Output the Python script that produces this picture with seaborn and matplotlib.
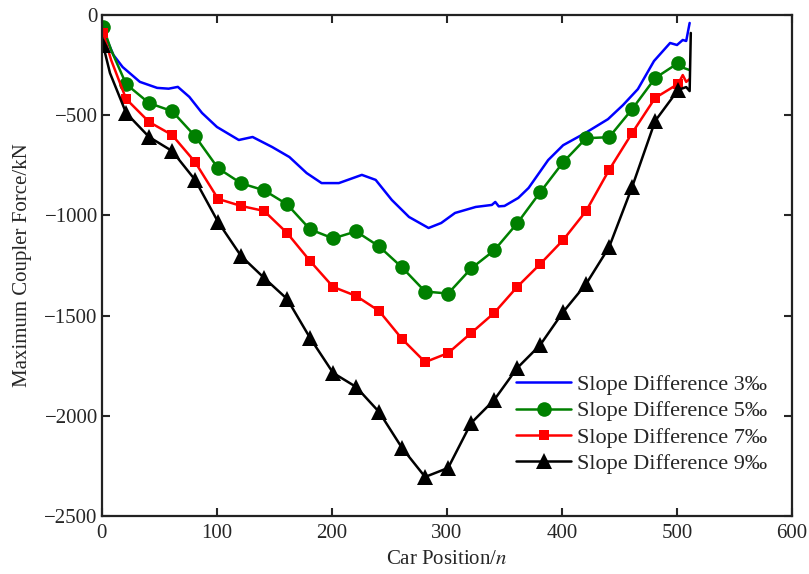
import numpy as np
import pandas as pd
import seaborn as sns
import matplotlib.pyplot as plt

# slope difference 3 per mille (no markers)
x3 = [1, 10, 18, 33, 48, 58, 66, 76, 87, 100, 119, 131, 148, 163, 178, 191, 206,
      226, 238, 252, 267, 284, 295, 307, 325, 339, 342, 345, 350, 362, 371, 388,
      401, 420, 440, 453, 466, 480, 494, 500, 505, 508, 511]
y3 = [-80, -200, -260, -334, -364, -368, -359, -409, -489, -559, -624, -609, -659,
      -709, -789, -839, -839, -798, -823, -923, -1008, -1063, -1038, -988, -958,
      -948, -933, -955, -953, -913, -863, -724, -650, -590, -520, -450, -370, -230,
      -140, -150, -125, -130, -40]

# marker positions every 20 cars
xm = [1, 21, 41, 61, 81, 101, 121, 141, 161, 181, 201, 221, 241, 261, 281, 301,
      321, 341, 361, 381, 401, 421, 441, 461, 481, 501]
y5 = [-60, -345, -440, -480, -605, -765, -840, -875, -945, -1070, -1115, -1080,
      -1155, -1260, -1380, -1390, -1265, -1175, -1040, -885, -735, -615, -610,
      -470, -315, -240]
y7 = [-90, -419, -534, -599, -734, -918, -953, -978, -1088, -1228, -1357, -1402,
      -1477, -1617, -1732, -1687, -1587, -1487, -1357, -1243, -1123, -978, -773,
      -589, -414, -344]
y9 = [-150, -489, -609, -679, -823, -1033, -1203, -1312, -1417, -1612, -1786,
      -1856, -1981, -2161, -2305, -2260, -2036, -1921, -1762, -1647, -1482, -1342,
      -1158, -858, -529, -374]

# extra points near the ends of each curve
start5, start7, start9 = (8, -175), (8, -225), (7, -290)
tail5 = [(503, -215), (506, -265), (511, -275)]
tail7 = [(505, -300), (508, -334), (511, -320)]
tail9 = [(508, -360), (511, -380), (512, -90)]

labels = ['Slope Difference 3‰', 'Slope Difference 5‰',
          'Slope Difference 7‰', 'Slope Difference 9‰']

sns.set_theme(style='ticks')
plt.rcParams['font.family'] = ['Liberation Serif', 'DejaVu Serif']
plt.rcParams['mathtext.fontset'] = 'stix'

fig = plt.figure(figsize=(8.09, 5.74), dpi=100)
ax = fig.add_axes([0.126, 0.101, 0.853, 0.873])


def build(ys, start, tail):
    xs = [xm[0], start[0]] + xm[1:] + [t[0] for t in tail]
    yv = [ys[0], start[1]] + ys[1:] + [t[1] for t in tail]
    marks = [0] + list(range(2, len(xm) + 1))
    return xs, yv, marks


sns.lineplot(x=x3, y=y3, ax=ax, color='#0000FF', lw=1.8, sort=False,
             estimator=None, label=labels[0])

for ys, st, tl, col, mk, ms, lab in [
        (y5, start5, tail5, '#008000', 'o', 10.5, labels[1]),
        (y7, start7, tail7, '#FF0000', 's', 7.5, labels[2]),
        (y9, start9, tail9, 'black', '^', 11.5, labels[3])]:
    xs, yv, marks = build(ys, st, tl)
    sns.lineplot(x=xs, y=yv, ax=ax, color=col, lw=1.8, sort=False,
                 estimator=None, marker=mk, markersize=ms, markevery=marks,
                 markeredgewidth=0, label=lab)

ax.set_xlim(0, 600)
ax.set_ylim(-2500, 0)
ax.set_xticks(range(0, 601, 100))
ax.set_yticks(range(-2500, 1, 500))
ax.tick_params(direction='in', length=6, width=1.5, labelsize=15,
               top=True, right=True)
ax.tick_params(axis='x', pad=6)
ax.tick_params(axis='y', pad=3)
for s in ax.spines.values():
    s.set_linewidth(1.6)
    s.set_color('#222222')
    s.set_visible(True)

ax.set_xlabel('Car Position/$\\mathit{n}$', fontsize=15, labelpad=5)
ax.set_ylabel('Maximum Coupler Force/kN', fontsize=15, labelpad=9)

ax.legend(loc='upper left', bbox_to_anchor=(0.587, 0.30), frameon=False,
          fontsize=16, handlelength=2.5, handletextpad=0.25, labelspacing=0.26,
          borderaxespad=0)

fig.savefig('out.png', dpi=100)
